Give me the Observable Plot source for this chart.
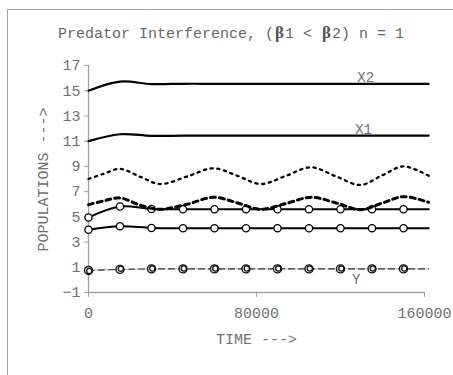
<!DOCTYPE html>
<html>
<head>
<meta charset="utf-8">
<script src="https://cdn.jsdelivr.net/npm/d3@7"></script>
<script src="https://cdn.jsdelivr.net/npm/@observablehq/plot@0.6"></script>
<style>
  html, body { margin: 0; padding: 0; background: #fff; }
  #wrap { position: relative; width: 453px; height: 375px; overflow: hidden; }
  #frame { position: absolute; left: 7px; top: 9px; width: 446px; height: 366px;
           border-top: 1px solid #a0a0a0; border-left: 1px solid #a0a0a0; box-sizing: border-box; }
  #title { position: absolute; left: 58px; top: 25px; white-space: nowrap;
           font-family: "Liberation Mono", monospace; font-size: 15px; line-height: 15px; color: #666; }
  #title .b { font-family: "Liberation Serif", serif; font-weight: bold; font-size: 17px; color: #555; padding: 0 1px; }
  #chart { position: absolute; left: 0; top: 0; }
</style>
</head>
<body>
<div id="wrap">
  <div id="frame"></div>
  <div id="chart"></div>
  <div id="title">Predator Interference, (<span class="b">β</span>1 &lt; <span class="b">β</span>2) n = 1</div>
</div>
<script>
// ---- data ----
const tSolid = [0, 15000, 30000, 45000, 60000, 75000, 90000, 105000, 120000, 135000, 150000, 162000];
const x2Vals = [15.0, 15.72, 15.53, 15.55, 15.55, 15.55, 15.55, 15.55, 15.55, 15.55, 15.55, 15.55];
const x1Vals = [11.0, 11.55, 11.42, 11.44, 11.44, 11.44, 11.44, 11.44, 11.44, 11.44, 11.44, 11.44];
const circAVals = [4.95, 5.82, 5.63, 5.6, 5.6, 5.6, 5.6, 5.6, 5.6, 5.6, 5.6, 5.6];
const circBVals = [3.97, 4.25, 4.12, 4.1, 4.1, 4.1, 4.1, 4.1, 4.1, 4.1, 4.1, 4.1];
const yVals = [0.75, 0.83, 0.87, 0.87, 0.87, 0.87, 0.87, 0.87, 0.87, 0.87, 0.87, 0.87];
const y2Vals = [0.7, 0.88, 0.9, 0.9, 0.9, 0.9, 0.9, 0.9, 0.9, 0.9, 0.9, 0.9];

const tOsc = [0, 7000, 15000, 25000, 34000, 47000, 59500, 71000, 82000, 94000, 106000, 118000, 129500, 140000, 150000, 162000];
const dottedVals = [8.0, 8.4, 8.8, 8.15, 7.6, 8.2, 8.85, 8.25, 7.6, 8.25, 8.93, 8.2, 7.53, 8.3, 9.0, 8.25];
const dashVals = [5.97, 6.25, 6.5, 5.9, 5.6, 6.0, 6.55, 6.1, 5.6, 6.05, 6.55, 6.1, 5.57, 6.1, 6.6, 6.15];

const yTicks = [-1, 1, 3, 5, 7, 9, 11, 13, 15, 17];
const xTicks = [0, 80000, 160000];
const seriesLabels = [
  {t: 132000, v: 15.55, text: "X2"},
  {t: 131000, v: 11.44, text: "X1"},
  {t: 127500, v: -0.45, text: "Y"}
];

// ---- build tables ----
const solid = (vals) => tSolid.map((t, i) => ({t, v: vals[i]}));
const osc = (vals) => tOsc.map((t, i) => ({t, v: vals[i]}));
const markers = (vals) => solid(vals).filter(d => d.t <= 150000);

const textColor = "#707070";
const axisColor = "#a0a0a0";

const chart = Plot.plot({
  width: 453,
  height: 375,
  marginLeft: 88,
  marginRight: 29,
  marginTop: 65,
  marginBottom: 83,
  style: {fontFamily: "'Liberation Mono', monospace", fontSize: "15px", background: "transparent", overflow: "visible"},
  x: {domain: [0, 160000], label: null},
  y: {domain: [-1, 17], label: null},
  marks: [
    Plot.ruleX([0], {y1: -1, y2: 17, stroke: axisColor, strokeWidth: 1.3}),
    Plot.ruleY([-1], {x1: 0, x2: 160000, stroke: axisColor, strokeWidth: 1.3}),
    Plot.axisY(yTicks, {tickSize: 4, tickPadding: 4, stroke: axisColor, color: textColor, tickFormat: d => d < 0 ? "−" + Math.abs(d) : String(d)}),
    Plot.axisX(xTicks, {tickSize: 5, tickPadding: 10, stroke: axisColor, color: textColor, tickFormat: d => String(d)}),
    Plot.text(["POPULATIONS --->"], {frameAnchor: "left", dx: -45.5, dy: 0.5, rotate: -90, fill: textColor, fontSize: 15, textAnchor: "middle", lineAnchor: "middle"}),
    Plot.text(["TIME --->"], {frameAnchor: "bottom", dy: 47, fill: textColor, fontSize: 15, textAnchor: "middle", lineAnchor: "middle"}),
    // Y (thin dashed)
    Plot.line(solid(yVals), {x: "t", y: "v", stroke: "#b8b8b8", strokeWidth: 1}),
    Plot.line(solid(yVals), {x: "t", y: "v", stroke: "#333", strokeWidth: 1.1, strokeDasharray: "6,4", curve: "catmull-rom"}),
    Plot.dot(markers(yVals), {x: "t", y: "v", r: 4, stroke: "#111", strokeWidth: 1.4, fill: "white"}),
    Plot.dot(markers(y2Vals), {x: "t", y: "v", r: 2.6, stroke: "#111", strokeWidth: 1.3, fill: "none", dx: 0.8}),
    // circle series
    Plot.line(solid(circBVals), {x: "t", y: "v", stroke: "#000", strokeWidth: 2, curve: "catmull-rom"}),
    Plot.dot(markers(circBVals), {x: "t", y: "v", r: 3.6, stroke: "#000", strokeWidth: 1.3, fill: "white"}),
    Plot.line(solid(circAVals), {x: "t", y: "v", stroke: "#000", strokeWidth: 2, curve: "catmull-rom"}),
    Plot.dot(markers(circAVals), {x: "t", y: "v", r: 3.6, stroke: "#000", strokeWidth: 1.3, fill: "white"}),
    // oscillating
    Plot.line(osc(dashVals), {x: "t", y: "v", stroke: "#000", strokeWidth: 3, strokeDasharray: "5,4", curve: "catmull-rom"}),
    Plot.line(osc(dottedVals), {x: "t", y: "v", stroke: "#000", strokeWidth: 2.3, strokeDasharray: "2.3,4.5", curve: "catmull-rom"}),
    // X1, X2
    Plot.line(solid(x1Vals), {x: "t", y: "v", stroke: "#000", strokeWidth: 2.2, curve: "catmull-rom"}),
    Plot.line(solid(x2Vals), {x: "t", y: "v", stroke: "#000", strokeWidth: 2.2, curve: "catmull-rom"}),
    // labels
    Plot.text(seriesLabels, {x: "t", y: "v", text: "text", fill: textColor, fontSize: 14, lineAnchor: "bottom", dy: -2})
  ]
});
document.getElementById("chart").appendChild(chart);
</script>
</body>
</html>
